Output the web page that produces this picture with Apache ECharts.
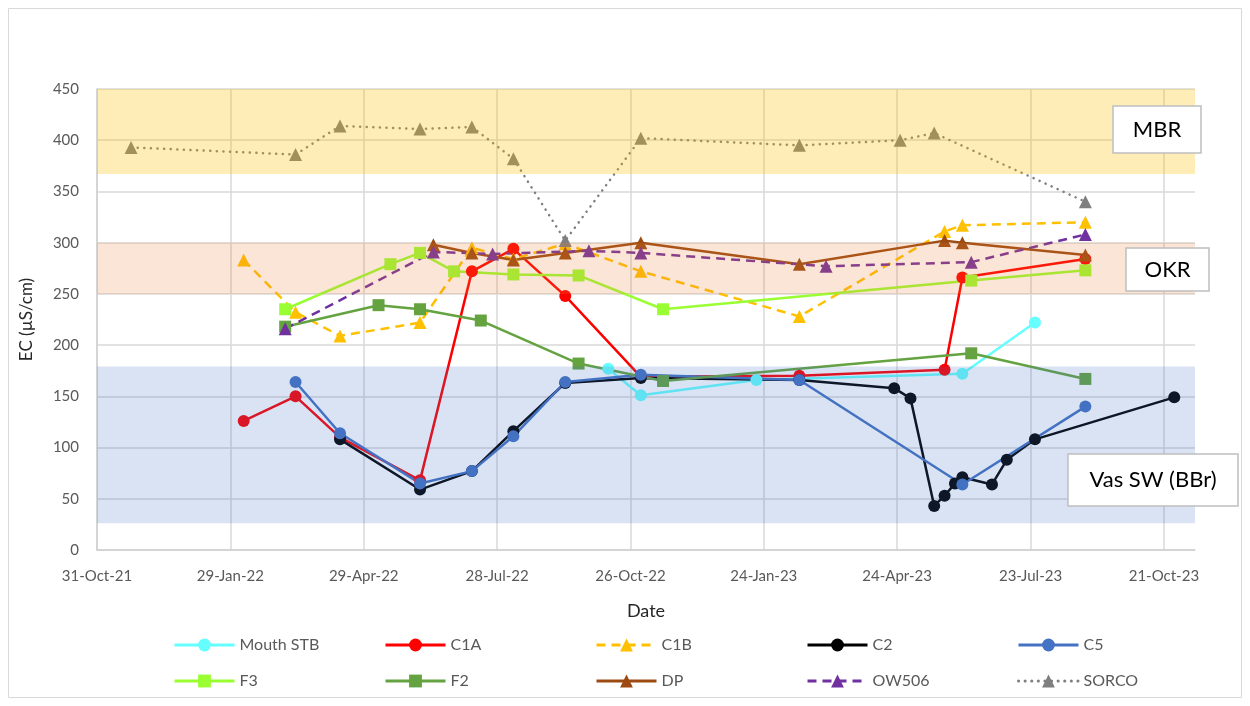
<!DOCTYPE html>
<html>
<head>
<meta charset="utf-8">
<script src="https://cdn.jsdelivr.net/npm/echarts@6/dist/echarts.min.js"></script>
<style>
  html, body { margin: 0; padding: 0; background: #fff; }
  #main { width: 1250px; height: 706px; }
</style>
</head>
<body>
<div id="main"></div>
<script>
// sampling dates + EC values (uS/cm)
var mouthSTB = [['2022-10-11',177],['2022-11-02',151],['2023-01-19',166],['2023-06-07',172],['2023-07-26',222]];
var c1a = [['2022-02-07',126],['2022-03-14',150],['2022-04-13',110],['2022-06-06',68],['2022-07-11',272],['2022-08-08',294],
           ['2022-09-12',248],['2022-11-02',169],['2023-02-17',170],['2023-05-26',176],['2023-06-07',266],['2023-08-29',284]];
var c1b = [['2022-02-07',283],['2022-03-14',232],['2022-04-13',209],['2022-06-06',222],['2022-07-11',295],['2022-08-08',284],
           ['2022-09-12',299],['2022-11-02',272],['2023-02-17',228],['2023-05-26',311],['2023-06-07',317],['2023-08-29',320]];
var c2 = [['2022-04-13',108],['2022-06-06',59],['2022-07-11',77],['2022-08-08',116],['2022-09-12',163],['2022-11-02',168],
          ['2023-02-17',166],['2023-04-22',158],['2023-05-03',148],['2023-05-19',43],['2023-05-26',53],['2023-06-02',65],
          ['2023-06-07',71],['2023-06-27',64],['2023-07-07',88],['2023-07-26',108],['2023-10-28',149]];
var c5 = [['2022-03-14',164],['2022-04-13',114],['2022-06-06',65],['2022-07-11',77],['2022-08-08',111],['2022-09-12',164],
          ['2022-11-02',171],['2023-02-17',166],['2023-06-07',64],['2023-08-29',140]];
var f3 = [['2022-03-07',235],['2022-05-17',279],['2022-06-06',290],['2022-06-29',272],['2022-08-08',269],['2022-09-21',268],
          ['2022-11-17',235],['2023-06-13',263],['2023-08-29',273]];
var f2 = [['2022-03-07',218],['2022-05-09',239],['2022-06-06',235],['2022-07-17',224],['2022-09-21',182],['2022-11-17',165],
          ['2023-06-13',192],['2023-08-29',167]];
var dp = [['2022-06-15',298],['2022-07-11',290],['2022-08-08',283],['2022-09-12',290],['2022-11-02',300],['2023-02-17',279],
          ['2023-05-26',302],['2023-06-07',300],['2023-08-29',288]];
var ow506 = [['2022-03-07',216],['2022-06-15',291],['2022-07-25',289],['2022-09-28',292],['2022-11-02',290],['2023-03-07',277],
             ['2023-06-13',281],['2023-08-29',308]];
var sorco = [['2021-11-23',393],['2022-03-14',386],['2022-04-13',414],['2022-06-06',411],['2022-07-11',413],['2022-08-08',382],
             ['2022-09-12',302],['2022-11-02',402],['2023-02-17',395],['2023-04-26',400],['2023-05-19',407],['2023-08-29',340]];

// reference ranges (bands)
var bandNames = ['MBR', 'OKR', 'Vas SW (BBr)'];
var bandLow = [367, 250, 26];
var bandHigh = [450, 300, 179];

var FONT = 'Lato, "Open Sans", sans-serif';
var MONTHS = ['Jan','Feb','Mar','Apr','May','Jun','Jul','Aug','Sep','Oct','Nov','Dec'];
var base = Date.UTC(2021, 9, 31);   // x = days since 31-Oct-21
function toDay(s) {
  var p = s.split('-');
  return (Date.UTC(+p[0], +p[1] - 1, +p[2]) - base) / 86400000;
}
function fmtDay(v) {
  var d = new Date(base + v * 86400000);
  var yy = d.getUTCFullYear() % 100;
  return d.getUTCDate() + '-' + MONTHS[d.getUTCMonth()] + '-' + (yy < 10 ? '0' : '') + yy;
}
function conv(arr) {
  return arr.map(function (r) { return [toDay(r[0]), r[1]]; });
}

var defs = [
  {name: 'Mouth STB', data: mouthSTB, color: '#66FFFF', symbol: 'circle', size: 12, line: 'solid'},
  {name: 'C1A', data: c1a, color: '#FF0000', symbol: 'circle', size: 12, line: 'solid'},
  {name: 'C1B', data: c1b, color: '#FFC000', symbol: 'triangle', size: 13, line: [9, 6]},
  {name: 'C2', data: c2, color: '#000000', symbol: 'circle', size: 12, line: 'solid'},
  {name: 'C5', data: c5, color: '#4472C4', symbol: 'circle', size: 12, line: 'solid'},
  {name: 'F3', data: f3, color: '#99FF33', symbol: 'rect', size: 12, line: 'solid'},
  {name: 'F2', data: f2, color: '#64A340', symbol: 'rect', size: 12, line: 'solid'},
  {name: 'DP', data: dp, color: '#9C4A12', symbol: 'triangle', size: 13, line: 'solid'},
  {name: 'OW506', data: ow506, color: '#7030A0', symbol: 'triangle', size: 13, line: [9, 6]},
  {name: 'SORCO', data: sorco, color: '#7F7F7F', symbol: 'triangle', size: 13, line: [0.1, 6.5]}
];

var series = defs.map(function (d) {
  return {
    name: d.name,
    type: 'line',
    data: conv(d.data),
    symbol: d.symbol,
    symbolSize: d.size,
    showAllSymbol: true,
    itemStyle: {color: d.color},
    lineStyle: {color: d.color, width: 2.5, type: d.line, cap: d.name === 'SORCO' ? 'round' : 'butt'}
  };
});

// semi transparent bands drawn over the lines and markers, like the shapes in the original
var bandColors = ['rgba(255,192,0,0.28)', 'rgba(237,125,49,0.2)', 'rgba(68,114,196,0.2)'];
series.push({
  name: 'bands',
  type: 'line',
  data: [],
  z: 10,
  silent: true,
  markArea: {
    silent: true,
    z: 20,
    data: bandNames.map(function (n, i) {
      return [{xAxis: 0, yAxis: bandLow[i], itemStyle: {color: bandColors[i]}}, {xAxis: 741, yAxis: bandHigh[i]}];
    })
  }
});

var legends = defs.map(function (d, i) {
  return {
    data: [d.name],
    left: 173 + (i % 5) * 211,
    top: i < 5 ? 637 : 673,
    padding: 0,
    itemWidth: 60,
    itemHeight: 16,
    itemGap: 6,
    lineStyle: {width: 3},
    textStyle: {fontFamily: FONT, fontSize: 16, color: '#595959'}
  };
});

function box(x, y, w, h, txt) {
  return [
    {type: 'rect', z: 100, shape: {x: x, y: y, width: w, height: h},
     style: {fill: '#fff', stroke: '#BFBFBF', lineWidth: 1.5}},
    {type: 'text', z: 101, x: x + w / 2, y: y + h / 2,
     style: {text: txt, fontFamily: FONT, fontSize: 22, fill: '#000', align: 'center', verticalAlign: 'middle'}}
  ];
}

var myChart = echarts.init(document.getElementById('main'));
var option = {
  animation: false,
  backgroundColor: '#fff',
  grid: {left: 97, right: 55, top: 89, bottom: 156, containLabel: false, outerBoundsMode: 'none'},
  legend: legends,
  xAxis: {
    type: 'value',
    min: 0,
    max: 741,
    interval: 90,
    name: 'Date',
    nameLocation: 'middle',
    nameGap: 52,
    nameTextStyle: {fontFamily: FONT, fontSize: 18, color: '#262626'},
    axisLine: {show: true, lineStyle: {color: '#D0D0D0', width: 1.5}},
    axisTick: {show: false},
    axisLabel: {
      fontFamily: FONT, fontSize: 15, color: '#595959', margin: 19,
      showMaxLabel: false,
      formatter: function (v) { return v % 90 === 0 ? fmtDay(v) : ''; }
    },
    splitLine: {show: true, showMaxLine: false, lineStyle: {color: '#D9D9D9', width: 1.5}}
  },
  yAxis: {
    type: 'value',
    min: 0,
    max: 450,
    interval: 50,
    name: 'EC (µS/cm)',
    nameLocation: 'middle',
    nameGap: 62,
    nameTextStyle: {fontFamily: FONT, fontSize: 17, color: '#262626'},
    axisLine: {show: true, lineStyle: {color: '#D0D0D0', width: 1.5}},
    axisTick: {show: false},
    axisLabel: {fontFamily: FONT, fontSize: 15, color: '#595959', margin: 18},
    splitLine: {show: true, lineStyle: {color: '#D9D9D9', width: 1.5}}
  },
  graphic: [
    {type: 'rect', z: 0, shape: {x: 8.5, y: 8.5, width: 1233, height: 689},
     style: {fill: 'none', stroke: '#D9D9D9', lineWidth: 1}}
  ].concat(box(1113, 106, 88, 47, 'MBR'))
   .concat(box(1126, 248, 83, 43, 'OKR'))
   .concat(box(1068, 454, 170, 52, 'Vas SW (BBr)')),
  series: series
};
myChart.setOption(option);
</script>
</body>
</html>
